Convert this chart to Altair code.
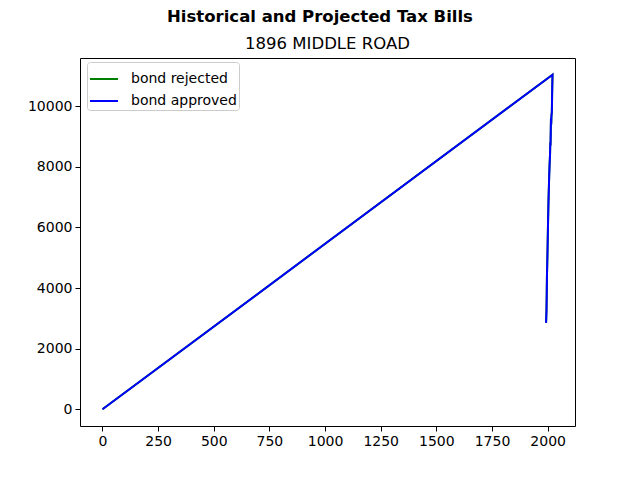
import altair as alt
import pandas as pd

# ─── Data ─────────────────────────────────────────────────────────────────────

SUPTITLE = "Historical and Projected Tax Bills"
SUBTITLE = "1896 MIDDLE ROAD"

years = [1993, 1994, 1995, 1996, 1997, 1998, 1999, 2000, 2001, 2002,
         2003, 2004, 2005, 2006, 2007, 2008, 2009, 2010, 2011, 2012,
         2013, 2014, 2015, 2016, 2017, 2018, 2019, 2020, 2021, 2022, 0]

bond_rejected = [2850, 3050, 3300, 3800, 4400, 4700, 5050, 5400, 5800, 6200,
                 6550, 6900, 7150, 7400, 7700, 7900, 8100, 8250, 8450, 8800,
                 8700, 9100, 9600, 9400, 9650, 9750, 9800, 10300, 10700, 11040, 0]

bond_approved = [2850, 3050, 3300, 3800, 4400, 4700, 5050, 5400, 5800, 6200,
                 6550, 6900, 7150, 7400, 7700, 7900, 8100, 8250, 8450, 8800,
                 8700, 9100, 9600, 9400, 9650, 9750, 9800, 10300, 10700, 11040, 0]

series_names = ["bond rejected", "bond approved"]
series_colors = ["green", "blue"]

FONT = "DejaVu Sans"

rows = []
for name, vals in zip(series_names, [bond_rejected, bond_approved]):
    for i, (yr, v) in enumerate(zip(years, vals)):
        rows.append({"year": yr, "bill": v, "series": name, "idx": i})
df = pd.DataFrame(rows)

color = alt.Color(
    "series:N",
    scale=alt.Scale(domain=series_names, range=series_colors),
    legend=alt.Legend(
        title=None, orient="none", legendX=7, legendY=4,
        symbolType="stroke", symbolSize=784, symbolStrokeWidth=2,
        labelFont=FONT, labelFontSize=14, labelColor="black", labelOffset=12,
        fillColor="white", strokeColor="#cccccc", cornerRadius=3,
        padding=2, rowPadding=0,
    ),
)

x_enc = alt.X(
    "year:Q", scale=alt.Scale(domain=[-101, 2123], nice=False, zero=False),
    axis=alt.Axis(values=[0, 250, 500, 750, 1000, 1250, 1500, 1750, 2000],
                  format="d", title=None),
)
y_enc = alt.Y(
    "bill:Q", scale=alt.Scale(domain=[-552, 11592], nice=False, zero=False),
    axis=alt.Axis(values=[0, 2000, 4000, 6000, 8000, 10000], format="d", title=None),
)

lines = []
for name in series_names:
    lines.append(
        alt.Chart(df[df["series"] == name]).mark_line(strokeWidth=2).encode(
            x=x_enc, y=y_enc, color=color, order=alt.Order("idx:Q"),
        )
    )

sup = alt.Chart(pd.DataFrame({"t": [SUPTITLE]})).mark_text(
    font=FONT, fontSize=16.5, fontWeight="bold", color="black", baseline="middle"
).encode(x=alt.value(240), y=alt.value(-41), text="t:N")

sub = alt.Chart(pd.DataFrame({"t": [SUBTITLE]})).mark_text(
    font=FONT, fontSize=16.5, color="black", baseline="middle"
).encode(x=alt.value(247.5), y=alt.value(-14), text="t:N")

chart = alt.layer(*lines, sup, sub).properties(
    width=495, height=368,
    autosize=alt.AutoSizeParams(type="none"),
    padding={"left": 72, "top": 50, "right": 57, "bottom": 46},
).configure_view(
    stroke="black", strokeWidth=1, fill="white"
).configure_axis(
    grid=False, domain=False, tickColor="black", tickSize=5, tickWidth=1,
    labelColor="black", labelFont=FONT, labelFontSize=14, labelPadding=3,
)

chart.save("out.html", embed_options={"renderer": "svg", "actions": False})
